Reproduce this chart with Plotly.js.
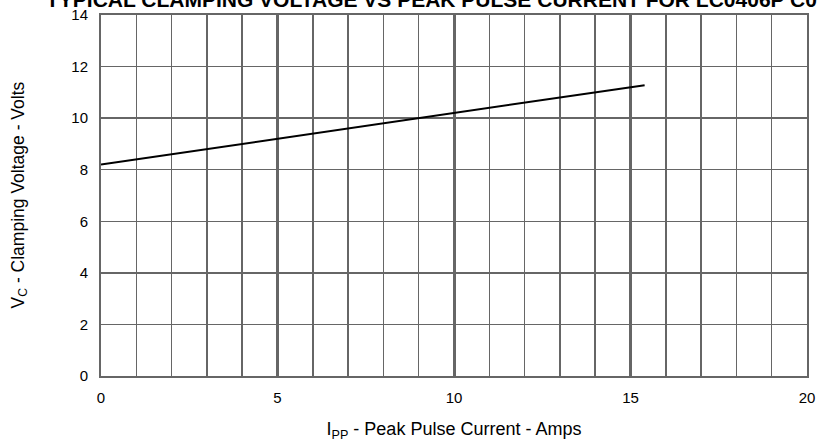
<!DOCTYPE html>
<html>
<head>
<meta charset="utf-8">
<script src="https://cdn.plot.ly/plotly-3.0.1.min.js"></script>
<style>html,body{margin:0;padding:0;background:#fff;}#chart{width:817px;height:442px;}</style>
</head>
<body>
<div id="chart"></div>
<script>
var chartTitle = "TYPICAL CLAMPING VOLTAGE VS PEAK PULSE CURRENT FOR LC0406P C05";
var xTitle = "I<sub>PP</sub> - Peak Pulse Current - Amps";
var yTitle = "V<sub>C</sub> - Clamping Voltage - Volts";
var peakCurrent = [0, 5, 10, 15.4];
var clampVoltage = [8.2, 9.2, 10.2, 11.28];
var xTickVals = [0, 5, 10, 15, 20];
var yTickVals = [0, 2, 4, 6, 8, 10, 12, 14];

var font = "Liberation Sans, Arial, Helvetica, sans-serif";
var trace = {
  x: peakCurrent, y: clampVoltage, mode: "lines", type: "scatter",
  line: {color: "#000", width: 2}, hoverinfo: "skip"
};
var layout = {
  width: 817, height: 442,
  margin: {l: 101, r: 10, t: 15, b: 66},
  paper_bgcolor: "#fff", plot_bgcolor: "#fff",
  showlegend: false,
  font: {family: font, color: "#000", size: 15},
  title: {text: "<b>" + chartTitle + "</b>", x: 46/817, xanchor: "left",
          xref: "container", yref: "container", y: 1, yanchor: "middle",
          font: {family: font, size: 21, color: "#000"}},
  xaxis: {
    range: [0, 20], tickvals: xTickVals, ticks: "", showgrid: true,
    gridcolor: "#666", gridwidth: 3,
    minor: {dtick: 1, showgrid: true, gridcolor: "#666", gridwidth: 1.5, ticks: ""},
    showline: true, linecolor: "#666", linewidth: 2, mirror: true,
    zeroline: false, tickfont: {size: 15}, ticklabelstandoff: 7,
    title: {text: xTitle, font: {size: 18}, standoff: 18}
  },
  yaxis: {
    range: [0, 14], tickvals: yTickVals, ticks: "", showgrid: true,
    gridcolor: "#666", gridwidth: 1.5,
    showline: true, linecolor: "#666", linewidth: 2, mirror: true,
    zeroline: false, tickfont: {size: 15}, ticklabelstandoff: 8
  },
  annotations: [{
    text: yTitle, textangle: -90, showarrow: false,
    xref: "paper", yref: "paper", x: (19 - 101) / 706, y: 0.5,
    xanchor: "center", yanchor: "middle",
    font: {family: font, size: 17.5, color: "#000"}
  }]
};
Plotly.newPlot("chart", [trace], layout, {displayModeBar: false, staticPlot: true});
</script>
</body>
</html>
